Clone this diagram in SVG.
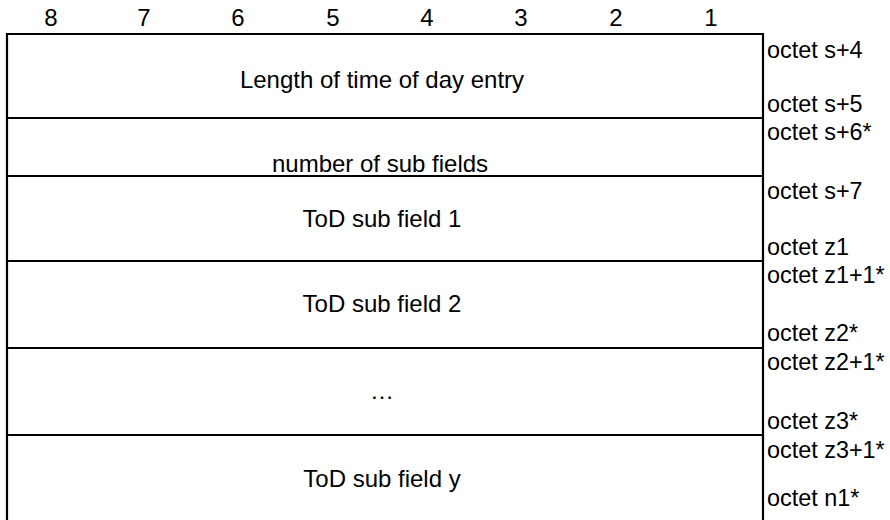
<svg xmlns="http://www.w3.org/2000/svg" width="890" height="520" viewBox="0 0 890 520">
<style>
text{font-family:"Liberation Sans",Arial,sans-serif;font-size:24px;fill:#000}
.o{font-size:23.4px}
.c{text-anchor:middle}
.ln{stroke:#000;stroke-width:2.2;fill:none}
</style>
<rect width="890" height="520" fill="#fff"/>
<g id="header">
<text class="c" x="51" y="26">8</text>
<text class="c" x="144" y="26">7</text>
<text class="c" x="238" y="26">6</text>
<text class="c" x="333" y="26">5</text>
<text class="c" x="427" y="26">4</text>
<text class="c" x="521" y="26">3</text>
<text class="c" x="616" y="26">2</text>
<text class="c" x="711" y="26">1</text>
</g>
<g id="frame">
<path class="ln" d="M7,520 V34 H763 V520"/>
<line class="ln" x1="7" y1="118" x2="763" y2="118"/>
<line class="ln" x1="7" y1="176" x2="763" y2="176"/>
<line class="ln" x1="7" y1="261" x2="763" y2="261"/>
<line class="ln" x1="7" y1="348" x2="763" y2="348"/>
<line class="ln" x1="7" y1="435" x2="763" y2="435"/>
</g>
<g id="f1"><text class="c" x="382" y="88">Length of time of day entry</text></g>
<g id="f2"><text class="c" x="380" y="172">number of sub fields</text></g>
<g id="f3"><text class="c" x="382" y="227">ToD sub field 1</text></g>
<g id="f4"><text class="c" x="382" y="312">ToD sub field 2</text></g>
<g id="f5"><text class="c" x="382" y="399">…</text></g>
<g id="f6"><text class="c" x="382" y="487">ToD sub field y</text></g>
<g id="octets">
<text class="o" x="767" y="58">octet s+4</text>
<text class="o" x="767" y="112">octet s+5</text>
<text class="o" x="767" y="140">octet s+6*</text>
<text class="o" x="767" y="199">octet s+7</text>
<text class="o" x="767" y="255">octet z1</text>
<text class="o" x="767" y="283">octet z1+1*</text>
<text class="o" x="767" y="341">octet z2*</text>
<text class="o" x="767" y="370">octet z2+1*</text>
<text class="o" x="767" y="429">octet z3*</text>
<text class="o" x="767" y="458">octet z3+1*</text>
<text class="o" x="767" y="506">octet n1*</text>
</g>
</svg>
